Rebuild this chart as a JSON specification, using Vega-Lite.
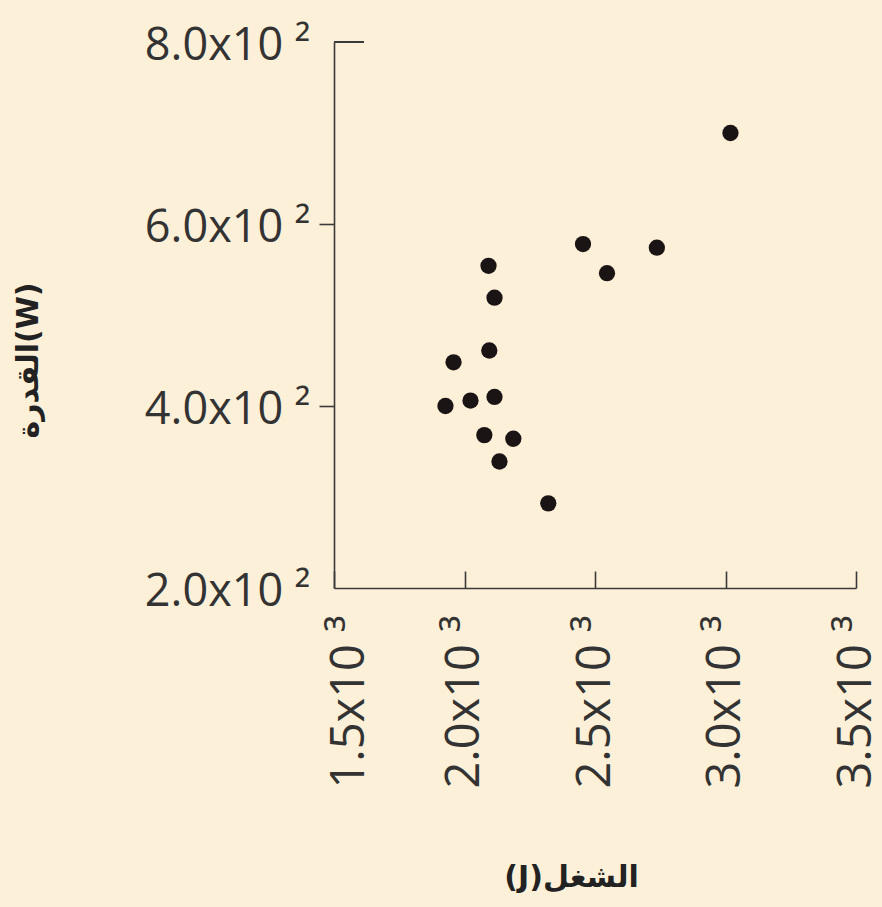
{
  "$schema": "https://vega.github.io/schema/vega-lite/v6.json",
  "width": 522,
  "height": 546,
  "autosize": {"type": "none"},
  "padding": {"left": 334, "top": 42, "right": 26, "bottom": 319},
  "background": "#fdf0d8",
  "config": {
    "view": {"stroke": null},
    "axis": {"grid": false, "domainColor": "#3a3a3a", "domainWidth": 1.6, "tickColor": "#3a3a3a", "tickWidth": 1.6, "labelColor": "#333333", "labelFont": "Open Sans", "labelFontSize": 45, "titleColor": "#222222", "titleFont": "DejaVu Sans", "titleFontWeight": "bold", "titleFontSize": 30}
  },
  "data": {"values": [
    {"work": 1927, "power": 400},
    {"work": 1958, "power": 448},
    {"work": 2023, "power": 406},
    {"work": 2092, "power": 554},
    {"work": 2115, "power": 519},
    {"work": 2095, "power": 461},
    {"work": 2115, "power": 410},
    {"work": 2076, "power": 368},
    {"work": 2187, "power": 364},
    {"work": 2134, "power": 339},
    {"work": 2321, "power": 293},
    {"work": 2454, "power": 578},
    {"work": 2546, "power": 546},
    {"work": 2737, "power": 574},
    {"work": 3019, "power": 700}
  ]},
  "layer": [
    {
      "mark": {"type": "circle", "size": 265, "color": "#1a1414", "opacity": 1},
      "encoding": {
        "x": {"field": "work", "type": "quantitative", "scale": {"domain": [1500, 3500], "nice": false, "zero": false},
          "axis": {"values": [1500, 2000, 2500, 3000, 3500], "labelExpr": "format(datum.value/1000, '.1f') + 'x10 ³'", "labelAngle": 270, "labelAlign": "right", "labelBaseline": "middle", "labelFontSize": 47, "tickSize": -17, "labelPadding": 44,
            "labelOffset": {"condition": {"test": "datum.value == 1500", "value": 15}, "value": 0},
            "title": "(J)الشغل", "titleX": 237, "titleY": 289, "titleAlign": "center", "titleBaseline": "middle", "titleAnchor": null}},
        "y": {"field": "power", "type": "quantitative", "scale": {"domain": [200, 800], "nice": false, "zero": false},
          "axis": {"values": [200, 400, 600, 800], "labelExpr": "format(datum.value/100, '.1f') + 'x10 ²'", "tickSize": 15, "labelPadding": 9, "labelOffset": 3,
            "tickColor": {"condition": {"test": "datum.value == 200 || datum.value == 800", "value": "transparent"}, "value": "#3a3a3a"},
            "title": "القدرة(W)", "titleAngle": 270, "titleX": -306, "titleY": 318, "titleAlign": "center", "titleBaseline": "middle", "titleAnchor": null}}
      }
    },
    {
      "mark": {"type": "rule", "color": "#3a3a3a", "strokeWidth": 1.6},
      "encoding": {
        "x": {"datum": 1500, "type": "quantitative"},
        "x2": {"datum": 1615},
        "y": {"datum": 800, "type": "quantitative"}
      }
    }
  ]
}
